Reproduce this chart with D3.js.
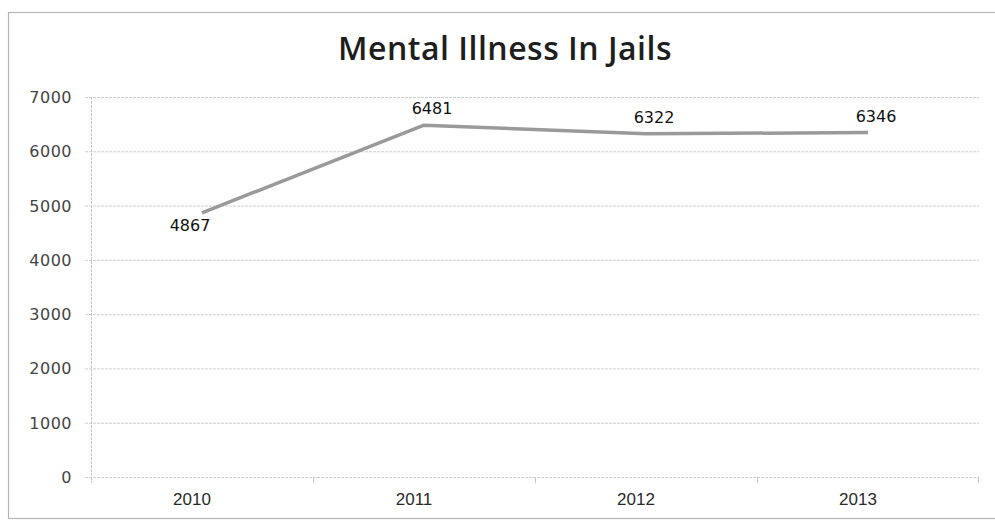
<!DOCTYPE html>
<html>
<head>
<meta charset="utf-8">
<script src="https://cdn.jsdelivr.net/npm/d3@7"></script>
<style>
  body { margin: 0; background: #fff; }
  svg { display: block; }
</style>
</head>
<body>
<svg id="svg" width="995" height="523"></svg>
<script>
// chart data
var years = ["2010", "2011", "2012", "2013"];
var inmates = [4867, 6481, 6322, 6346];
var yTicks = [0, 1000, 2000, 3000, 4000, 5000, 6000, 7000];

var svg = d3.select("#svg");
var plotLeft = 91, plotRight = 979, plotTop = 97, plotBottom = 477;

// outer chart frame
svg.append("rect")
    .attr("x", 8.5).attr("y", 12.5)
    .attr("width", 1000).attr("height", 506)
    .attr("fill", "none")
    .attr("stroke", "#b5b5b5")
    .attr("stroke-width", 1.2);

var x = d3.scaleBand().domain(years).range([plotLeft, plotRight]);
var y = d3.scaleLinear().domain([0, 7000]).range([plotBottom, plotTop]);

// gridlines
svg.append("g")
    .selectAll("line")
    .data(yTicks)
    .enter().append("line")
    .attr("x1", plotLeft - 6).attr("x2", plotRight)
    .attr("y1", function(d) { return y(d) + 0.5; })
    .attr("y2", function(d) { return y(d) + 0.5; })
    .attr("stroke", "#cfcfcf")
    .attr("stroke-dasharray", "3,1");

// y axis line
svg.append("line")
    .attr("x1", plotLeft + 0.5).attr("x2", plotLeft + 0.5)
    .attr("y1", plotTop).attr("y2", plotBottom + 6)
    .attr("stroke", "#c8c8c8")
    .attr("stroke-dasharray", "3,1");

// category tick marks
svg.append("g")
    .selectAll("line")
    .data(years.slice(1))
    .enter().append("line")
    .attr("x1", function(d) { return x(d) + 0.5; })
    .attr("x2", function(d) { return x(d) + 0.5; })
    .attr("y1", plotBottom).attr("y2", plotBottom + 6)
    .attr("stroke", "#c8c8c8");
svg.append("line")
    .attr("x1", plotRight - 0.5).attr("x2", plotRight - 0.5)
    .attr("y1", plotBottom).attr("y2", plotBottom + 6)
    .attr("stroke", "#c8c8c8");

// y tick labels
svg.append("g")
    .selectAll("text")
    .data(yTicks)
    .enter().append("text")
    .attr("x", 72)
    .attr("y", function(d) { return y(d) + 6; })
    .attr("text-anchor", "end")
    .attr("font-family", "DejaVu Sans")
    .attr("font-size", "16px")
    .attr("letter-spacing", "0.5px")
    .attr("fill", "#444")
    .text(function(d) { return d; });

// x labels
svg.append("g")
    .selectAll("text")
    .data(years)
    .enter().append("text")
    .attr("x", function(d) { return x(d) + x.bandwidth() / 2 - 10; })
    .attr("y", 505)
    .attr("text-anchor", "middle")
    .attr("font-family", "Liberation Sans Narrow, Liberation Sans, sans-serif")
    .attr("font-size", "17px")
    .attr("fill", "#2a2a2a")
    .text(function(d) { return d; });

// the line
var line = d3.line()
    .x(function(d, i) { return x(years[i]) + x.bandwidth() / 2; })
    .y(function(d) { return y(d); });

svg.append("path")
    .datum(inmates)
    .attr("d", line)
    .attr("fill", "none")
    .attr("stroke", "#9a9a9a")
    .attr("stroke-width", 3.5)
    .attr("stroke-linejoin", "round");

// data labels
svg.append("g")
    .selectAll("text")
    .data(inmates)
    .enter().append("text")
    .attr("x", function(d, i) { return x(years[i]) + x.bandwidth() / 2 + (i == 0 ? -12 : 8); })
    .attr("y", function(d, i) { return i == 0 ? y(d) + 18 : y(d) - 11; })
    .attr("text-anchor", "middle")
    .attr("font-family", "DejaVu Sans")
    .attr("font-size", "16px")
    .attr("fill", "#111")
    .text(function(d) { return d; });

// title
svg.append("text")
    .attr("x", 505)
    .attr("y", 60)
    .attr("text-anchor", "middle")
    .attr("font-family", "Open Sans, sans-serif")
    .attr("font-weight", 600)
    .attr("font-size", "32px")
    .attr("letter-spacing", "0.5px")
    .attr("fill", "#1e1e1e")
    .text("Mental Illness In Jails");
</script>
</body>
</html>
